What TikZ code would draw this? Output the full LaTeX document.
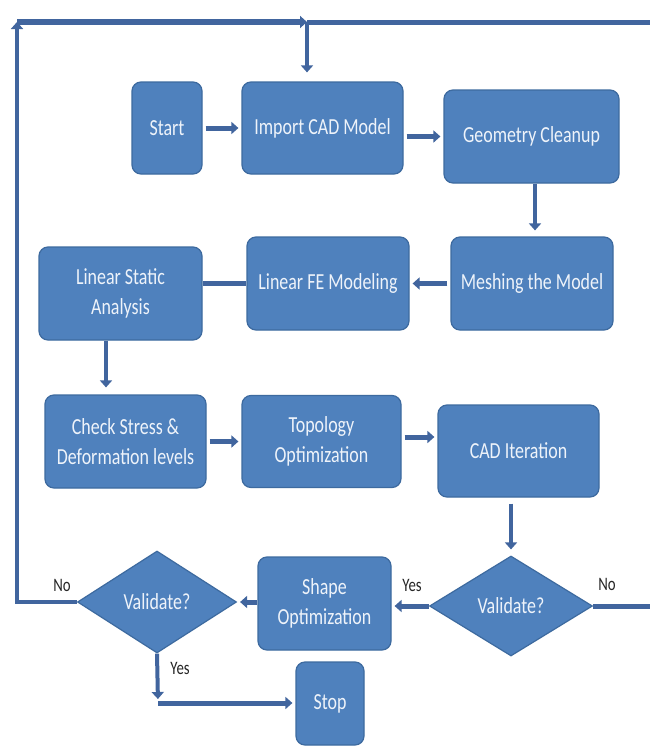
\documentclass[tikz,border=0pt]{standalone}
\usepackage{fontspec}
\setmainfont{Carlito}[FakeStretch=0.78]
\usetikzlibrary{shapes.geometric,arrows.meta}
\definecolor{boxfill}{HTML}{4F81BD}
\definecolor{boxline}{HTML}{3D6A9F}
\definecolor{conn}{HTML}{41659E}
\definecolor{boxtext}{HTML}{EEF3FA}
\begin{document}
\begin{tikzpicture}[x=1pt,y=-1pt,
  box/.style={draw=boxline, line width=1.2pt, fill=boxfill, rounded corners=9pt, text=boxtext, align=center, inner sep=0pt, font=\fontsize{23}{30}\selectfont},
  dec/.style={diamond, draw=boxline, line width=1.2pt, fill=boxfill, text=boxtext, inner sep=0pt, font=\fontsize{23}{30}\selectfont},
  arr/.style={draw=conn, line width=5pt, -{Triangle[length=7pt,width=12pt]}, shorten >=3pt},
  link/.style={draw=conn, line width=5pt},
  lab/.style={font=\fontsize{19}{22}\selectfont, text=black!85}
]
\useasboundingbox (0,0) rectangle (649,747);
\fill[white] (0,0) rectangle (649,747);

% boxes
\node[box, minimum width=70pt, minimum height=92pt] (start) at (167,128) {Start};
\node[box, minimum width=161pt, minimum height=92pt] (import) at (322.5,128) {Import CAD Model};
\node[box, minimum width=175pt, minimum height=93pt] (geom) at (531.5,136.5) {Geometry Cleanup};
\node[box, minimum width=162pt, minimum height=93pt] (mesh) at (532,283.5) {Meshing the Model};
\node[box, minimum width=162pt, minimum height=93pt] (fe) at (328,283.5) {Linear FE Modeling};
\node[box, minimum width=163pt, minimum height=93pt] (static) at (120.5,293.5) {Linear Static\\Analysis};
\node[box, minimum width=161pt, minimum height=93pt] (check) at (125.5,441.5) {Check Stress \&\\Deformation levels};
\node[box, minimum width=159pt, minimum height=92pt] (topo) at (321.5,441.5) {Topology\\Optimization};
\node[box, minimum width=161pt, minimum height=92pt] (cadit) at (518.5,451) {CAD Iteration};
\node[dec, minimum width=163pt, minimum height=100pt] (val2) at (511,606) {Validate?};
\node[box, minimum width=133pt, minimum height=93pt] (shape) at (324.5,603.5) {Shape\\Optimization};
\node[dec, minimum width=159pt, minimum height=102pt] (val1) at (157,602) {Validate?};
\node[box, minimum width=68pt, minimum height=83pt] (stop) at (330,703.5) {Stop};

% labels
\node[lab] (no1) at (62,585) {No};
\node[lab] (no2) at (607,584) {No};
\node[lab] (yes2) at (412,585) {Yes};
\node[lab] (yes1) at (180,668) {Yes};

% loop coordinates
\coordinate (tl) at (17,22);
\coordinate (jn) at (307,22);
\coordinate (tr) at (658,22);
\coordinate (br) at (658,606);
\coordinate (bl) at (17,602);
\coordinate (yc) at (158,703);

% connectors
\draw[arr, shorten <=3pt] (start) -- (import);
\draw[arr, shorten <=3pt] (import.east |- geom.west) -- (geom.west);
\draw[arr, line width=4pt, shorten >=6pt] (geom.south -| 535,0) -- (mesh.north -| 535,0);
\draw[arr, shorten <=3pt] (mesh.west) -- (fe.east);
\draw[link] (fe.west) -- (static.east |- fe.west);
\draw[arr, line width=4pt, shorten >=7pt] (static.south -| 106,0) -- (check.north -| 106,0);
\draw[arr, shorten <=3pt] (check.east |- topo.west) -- (topo.west);
\draw[arr, shorten <=3pt] (topo.east |- 0,437) -- (cadit.west |- 0,437);
\draw[arr, line width=4pt, shorten <=6pt, shorten >=6pt] (cadit.south -| val2.north) -- (val2.north);
\draw[arr] (val2.west) -- (val2.west -| shape.east);
\draw[arr] (shape.west |- val1.east) -- (val1.east);
\draw[arr, line width=4pt, shorten >=4pt] (val1.south) -- (yc);
\draw[arr] (yc) -- (stop.west |- yc);

% return loops
\draw[arr, line width=4pt, shorten >=0pt] (val1.west) -- (bl) -- (tl);
\draw[arr, line width=6pt, shorten >=0pt] (tl) -- (jn);
\draw[link] (val2.east) -- (br) -- (tr) -- (jn);
\draw[arr, line width=4pt, shorten >=9pt] (jn) -- (jn |- import.north);
\end{tikzpicture}
\end{document}
